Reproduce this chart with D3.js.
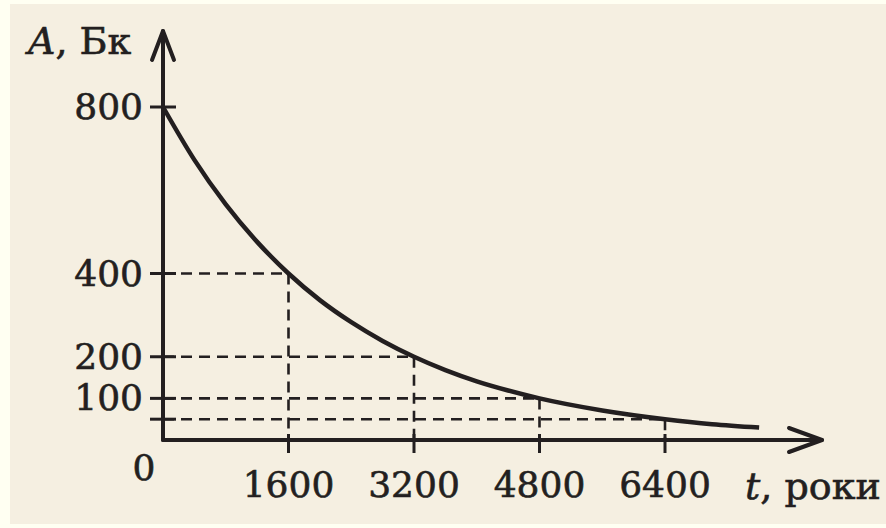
<!DOCTYPE html>
<html>
<head>
<meta charset="utf-8">
<script src="https://cdn.jsdelivr.net/npm/d3@7"></script>
<style>
	body { margin: 0; background: #fffff2; }
	svg { display: block; }
	text { font-family: "DejaVu Serif", serif; fill: #231f20; stroke: #231f20; stroke-width: 0.6; }
</style>
</head>
<body>
<div id="chart"></div>
<script>
// curve: t in years, A in Bq
const tValues = [0, 400, 800, 1200, 1600, 2000, 2400, 2800, 3200, 3600, 4000, 4400, 4800, 5600, 6400, 7000, 7600];
const aValues = [800, 673, 566, 476, 400, 336, 283, 238, 200, 168, 141, 119, 100, 71, 50, 38, 30];
const xTicks = [1600, 3200, 4800, 6400];
const yTicks = [800, 400, 200, 100, 50];
const yTickLabels = ["800", "400", "200", "100", ""];
// half-life marks: where the dashed guides meet the curve
const markT = [1600, 3200, 4800, 6400];
const markA = [400, 200, 100, 50];

const width = 886;
const height = 528;
const ink = "#231f20";

const x = d3.scaleLinear().domain([0, 1600]).range([163, 288.5]);
const y = d3.scaleLinear().domain([0, 800]).range([440, 107]);

const svg = d3.select("#chart").append("svg")
	.attr("width", width)
	.attr("height", height);

// beige panel
svg.append("rect")
	.attr("x", 10).attr("y", 4)
	.attr("width", width - 10).attr("height", 520)
	.attr("fill", "#f5efe1");

// dashed guides
const guides = svg.append("g")
	.attr("stroke", ink)
	.attr("stroke-width", 2.6)
	.attr("stroke-dasharray", "11,7")
	.attr("fill", "none");
markT.forEach((t, i) => {
	guides.append("line")
		.attr("x1", x(0)).attr("x2", x(t))
		.attr("y1", y(markA[i])).attr("y2", y(markA[i]));
	guides.append("line")
		.attr("x1", x(t)).attr("x2", x(t))
		.attr("y1", y(markA[i])).attr("y2", y(0));
});

// ticks
const ticks = svg.append("g").attr("stroke", ink).attr("stroke-width", 3);
yTicks.forEach((v) => {
	ticks.append("line")
		.attr("x1", x(0) - 13).attr("x2", x(0) + 13)
		.attr("y1", y(v)).attr("y2", y(v));
});
xTicks.forEach((v) => {
	ticks.append("line")
		.attr("x1", x(v)).attr("x2", x(v))
		.attr("y1", y(0) - 6).attr("y2", y(0) + 13);
});

// axes with open arrow heads
const axes = svg.append("g")
	.attr("stroke", ink)
	.attr("stroke-width", 4)
	.attr("fill", "none")
	.attr("stroke-linecap", "round")
	.attr("stroke-linejoin", "round");
axes.append("path").attr("d", `M${x(0)},${y(0)}V31`);
axes.append("path").attr("d", `M${x(0) - 11},60L${x(0)},31L${x(0) + 11},60`);
axes.append("path").attr("d", `M${x(0)},${y(0)}H822`);
axes.append("path").attr("d", `M789,${y(0) - 12}L822,${y(0)}L789,${y(0) + 12}`);

// decay curve
const line = d3.line()
	.x((d, i) => x(tValues[i]))
	.y((d) => y(d))
	.curve(d3.curveMonotoneX);
svg.append("path")
	.datum(aValues)
	.attr("d", line)
	.attr("fill", "none")
	.attr("stroke", ink)
	.attr("stroke-width", 4.5);

// tick labels
svg.selectAll(".ylab")
	.data(yTicks)
	.enter()
	.append("text")
	.attr("class", "ylab")
	.attr("x", 143)
	.attr("y", (d) => y(d) + 12)
	.attr("text-anchor", "end")
	.attr("font-size", 36)
	.text((d, i) => yTickLabels[i]);

svg.selectAll(".xlab")
	.data(xTicks)
	.enter()
	.append("text")
	.attr("class", "xlab")
	.attr("x", (d) => x(d))
	.attr("y", 497)
	.attr("text-anchor", "middle")
	.attr("font-size", 36)
	.text((d) => d);

svg.append("text")
	.attr("x", 144).attr("y", 480)
	.attr("text-anchor", "middle")
	.attr("font-size", 36)
	.text("0");

// axis titles
const yTitle = svg.append("text").attr("x", 28).attr("y", 54).attr("font-size", 38);
yTitle.append("tspan").attr("font-style", "italic").text("A");
yTitle.append("tspan").text(", Бк");

const xTitle = svg.append("text").attr("x", 745).attr("y", 499).attr("font-size", 38);
xTitle.append("tspan").attr("font-style", "italic").text("t");
xTitle.append("tspan").text(", роки");
</script>
</body>
</html>
